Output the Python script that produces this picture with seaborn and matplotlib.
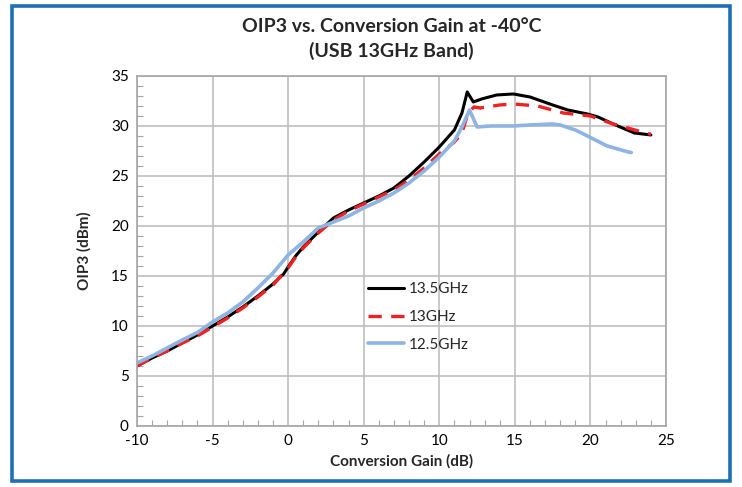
import matplotlib
matplotlib.use("Agg")
import matplotlib.pyplot as plt
from matplotlib.patches import Rectangle
from matplotlib.ticker import MultipleLocator
import seaborn as sns
import pandas as pd

x_135 = [-10, -9, -8, -7, -6, -5, -4, -3, -2, -1, -0.3, 0, 0.5, 1, 2, 3, 4, 5, 6, 7, 8, 9, 10, 11, 11.5, 11.85, 12.25, 12.8, 13.8, 14.9, 16, 17.5, 18.5, 19.8, 20.5, 21.5, 22.9, 24]
y_135 = [6.0, 6.8, 7.5, 8.3, 9.1, 10.0, 10.9, 11.9, 13.0, 14.2, 15.2, 15.9, 17.0, 17.9, 19.4, 20.8, 21.6, 22.3, 23.0, 23.8, 25.0, 26.4, 27.9, 29.6, 31.3, 33.4, 32.4, 32.7, 33.1, 33.2, 32.9, 32.1, 31.6, 31.2, 30.9, 30.2, 29.3, 29.1]

x_13 = [-10, -9, -8, -7, -6, -5, -4, -3, -2, -1, 0, 0.5, 1, 2, 3, 4, 5, 6, 7, 8, 9, 10, 11, 11.5, 11.9, 12.3, 12.7, 14, 14.9, 16.5, 18.2, 20, 21.5, 23.9, 24]
y_13 = [6.0, 6.8, 7.5, 8.3, 9.0, 9.9, 10.8, 11.8, 12.9, 14.1, 15.8, 16.9, 17.8, 19.3, 20.6, 21.5, 22.2, 22.9, 23.6, 24.6, 25.8, 27.2, 28.4, 29.3, 31.3, 31.9, 31.8, 32.1, 32.2, 32.0, 31.3, 31.0, 30.2, 29.2, 29.2]

x_125 = [-10, -9, -8, -7, -6, -5, -4, -3, -2, -1, 0, 1, 2, 3, 4, 5, 6, 7, 8, 9, 10, 11, 11.5, 12.0, 12.5, 13.4, 14.9, 16, 17.5, 18, 19, 19.8, 21.1, 22.5, 22.7]
y_125 = [6.3, 7.0, 7.8, 8.6, 9.35, 10.4, 11.3, 12.4, 13.8, 15.3, 17.1, 18.4, 19.8, 20.4, 21.0, 21.8, 22.5, 23.3, 24.3, 25.5, 26.9, 28.5, 29.9, 31.6, 29.9, 30.0, 30.0, 30.1, 30.2, 30.1, 29.6, 29.0, 28.0, 27.4, 27.35]

series_names = ["13.5GHz", "13GHz", "12.5GHz"]
x_ticks = [-10, -5, 0, 5, 10, 15, 20, 25]
y_ticks = [0, 5, 10, 15, 20, 25, 30, 35]

sns.set_style("white")
plt.rcParams['font.family'] = ['Lato', 'DejaVu Sans']
plt.rcParams['axes.unicode_minus'] = False

fig = plt.figure(figsize=(7.42, 4.87), dpi=100)
ax = fig.add_axes([0.1846, 0.1253, 0.713, 0.7187])

styles = [
    dict(color="black", lw=2.2, ls="-"),
    dict(color="#ee2222", lw=2.4, ls=(0, (4.0, 2.8))),
    dict(color="#8db4e2", lw=2.6, ls="-"),
]
data = [(x_135, y_135), (x_13, y_13), (x_125, y_125)]
for (xs, ys), name, st in zip(data, series_names, styles):
    df = pd.DataFrame({"x": xs, "y": ys})
    sns.lineplot(data=df, x="x", y="y", ax=ax, sort=False, estimator=None,
                 color=st["color"], linewidth=st["lw"], linestyle=st["ls"], label=name)

ax.set_xlim(-10, 25)
ax.set_ylim(0, 35)
ax.set_xticks(x_ticks)
ax.set_yticks(y_ticks)
ax.xaxis.set_minor_locator(MultipleLocator(1))
ax.yaxis.set_minor_locator(MultipleLocator(1))
ax.grid(True, which="major", color="#bfbfbf", lw=1.2)
ax.tick_params(which="major", length=0, labelsize=11, colors="black", pad=6)
ax.tick_params(which="minor", direction="in", length=4, color="#a6a6a6", width=0.8)
ax.tick_params(axis="x", which="minor", bottom=True)
ax.tick_params(axis="y", which="minor", left=True)
for s in ax.spines.values():
    s.set_color("#a6a6a6")
    s.set_linewidth(1.2)

ax.set_xlabel("Conversion Gain (dB)", fontsize=11, fontweight="bold", labelpad=4)
ax.set_ylabel("OIP3 (dBm)", fontsize=11, fontweight="bold", labelpad=14)
fig.text(0.528, 0.945, "OIP3 vs. Conversion Gain at -40°C", ha="center", va="center",
         fontsize=14, fontweight="bold")
fig.text(0.528, 0.895, "(USB 13GHz Band)", ha="center", va="center",
         fontsize=14, fontweight="bold")

leg = ax.legend(loc="upper left", bbox_to_anchor=(0.41, 0.45), frameon=False,
                fontsize=11, handlelength=2.4, labelspacing=0.9, handletextpad=0.3)

fig.patches.append(Rectangle((0.0155, 0.012), 0.9685, 0.975, transform=fig.transFigure,
                             fill=False, edgecolor="#1f6fb5", linewidth=2.6))

fig.savefig("out.png", dpi=100)
